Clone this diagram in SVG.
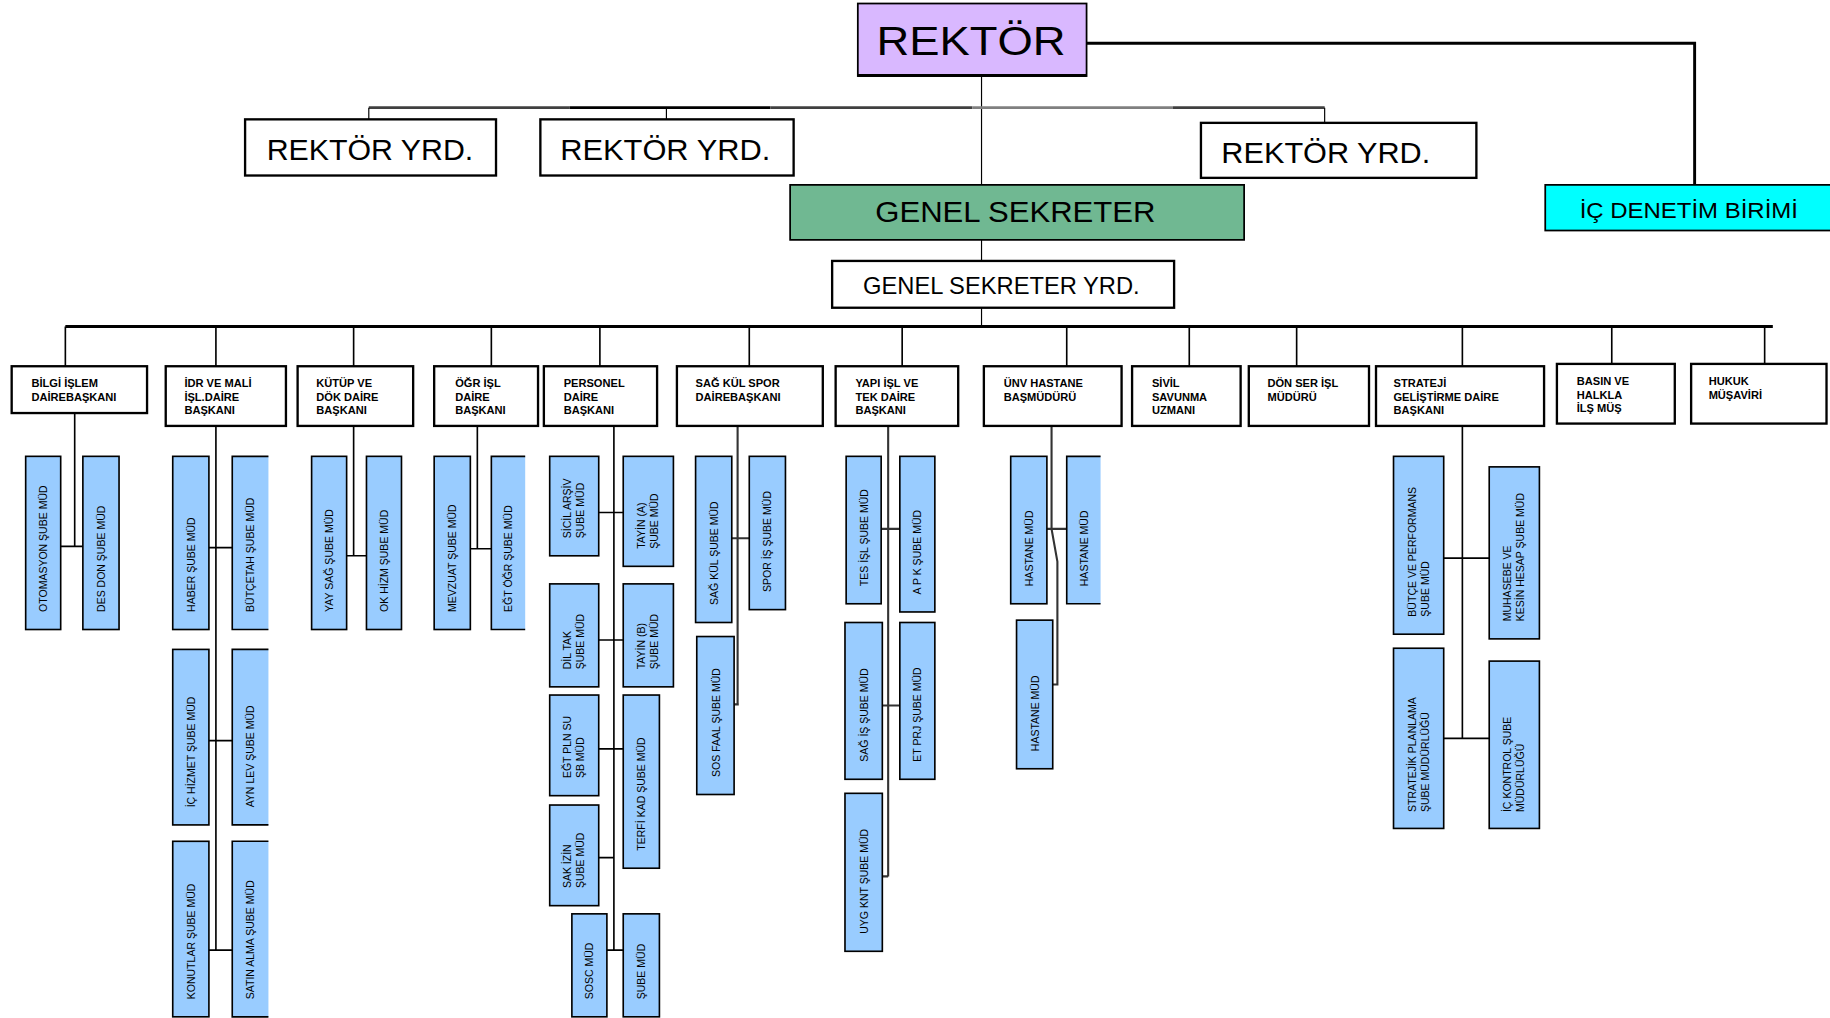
<svg xmlns="http://www.w3.org/2000/svg" width="1830" height="1018" viewBox="0 0 1830 1018">
<style>
.bx{fill:#fff;stroke:#000;stroke-width:2}
.sb{fill:#99CCFF;stroke:#000;stroke-width:1.4}
.sbf{fill:#99CCFF}
.sbe{fill:none;stroke:#000;stroke-width:1.4}
.ln{fill:none;stroke:#000;stroke-width:1.4}
.lt{fill:none;stroke:#000;stroke-width:1}
.lk{fill:none;stroke:#000;stroke-width:2.5}
.big{font-family:"Liberation Sans",Arial,sans-serif;fill:#000;text-anchor:middle}
.dt{font-family:"Liberation Sans",Arial,sans-serif;font-weight:bold;font-size:9.5px;fill:#000}
.st{font-family:"Liberation Sans",Arial,sans-serif;font-size:9px;fill:#000}
</style>
<rect width="1830" height="1018" fill="#fff"/>
<g transform="scale(1.1671,1.1701)">
<g id="connectors">
<path class="lk" d="M931,37 H1452 V158"/>
<path class="lt" d="M841,65 V158"/>
<path d="M316,92 H488" stroke="#404040" stroke-width="2.4"/>
<path d="M488,92 H660" stroke="#000" stroke-width="2.4"/>
<path d="M660,92 H833" stroke="#404040" stroke-width="2.4"/>
<path d="M833,92 H1005" stroke="#808080" stroke-width="2.4"/>
<path d="M1005,92 H1135" stroke="#404040" stroke-width="2.4"/>
<path class="lt" d="M316,92 V102 M571,92 V102 M1135,92 V105"/>
<path class="lt" d="M841,205 V223 M841,263 V279"/>
<path class="lk" d="M56,279 H1519"/>
<path class="ln" d="M56,279 V313 M185,279 V313 M303,279 V313 M421,279 V313 M514,279 V313 M642,279 V313 M773,279 V313 M914,279 V313 M1019,279 V313 M1111,279 V313 M1253,279 V313 M1381,279 V311 M1512,279 V311"/>
<path class="ln" d="M64,353 V467 M52,467 H71"/>
<path class="ln" d="M185,364 V812 M179,468 H199 M179,633 H199 M179,812 H199"/>
<path class="ln" d="M303,364 V475 M297,475 H314"/>
<path class="ln" d="M409,364 V469 M403,469 H421"/>
<path class="ln" d="M526,364 V812 M513,438 H534 M513,547 H534 M513,640 H534 M513,733 H526 M520,812 H534"/>
<path d="M632,364 V602 M627,460 H642 M629,602 H633" fill="none" stroke="#333" stroke-width="1.8"/>
<path d="M761,364 V749 M755,452 H771 M756,603 H771 M756,749 H761" fill="none" stroke="#333" stroke-width="1.8"/>
<path d="M901,364 V452 L906,480 V585 H902 M897,452 H914" fill="none" stroke="#333" stroke-width="1.8"/>
<path class="ln" d="M1253,364 V631 M1237,477 H1276 M1237,631 H1276"/>
</g>
<g id="rektor">
<rect x="735" y="3" width="196" height="62" fill="#D9B8FF" stroke="#000" stroke-width="1.5"/>
<path d="M735,64.5 H931" stroke="#000" stroke-width="2.5"/>
<text class="big" x="832" y="47" font-size="35" textLength="162" lengthAdjust="spacingAndGlyphs">REKTÖR</text>
</g>
<g id="rektor-yrd-1">
<rect class="bx" x="210" y="102" width="215" height="48"/>
<text class="big" x="317" y="137" font-size="26" textLength="177" lengthAdjust="spacingAndGlyphs">REKTÖR YRD.</text>
</g>
<g id="rektor-yrd-2">
<rect class="bx" x="463" y="102" width="217" height="48"/>
<text class="big" x="570" y="137" font-size="26" textLength="180" lengthAdjust="spacingAndGlyphs">REKTÖR YRD.</text>
</g>
<g id="rektor-yrd-3">
<rect class="bx" x="1029" y="105" width="236" height="47"/>
<text class="big" x="1136" y="139" font-size="26" textLength="179" lengthAdjust="spacingAndGlyphs">REKTÖR YRD.</text>
</g>
<g id="genel-sekreter">
<rect x="677" y="158" width="389" height="47" fill="#70B892" stroke="#000" stroke-width="1.5"/>
<text class="big" x="870" y="190" font-size="25" textLength="240" lengthAdjust="spacingAndGlyphs">GENEL SEKRETER</text>
</g>
<g id="ic-denetim">
<rect x="1324" y="158" width="250" height="39" fill="#00FFFF" stroke="#000" stroke-width="1.5"/>
<text class="big" x="1447" y="186" font-size="19" textLength="187" lengthAdjust="spacingAndGlyphs">İÇ DENETİM BİRİMİ</text>
</g>
<g id="genel-sekreter-yrd">
<rect class="bx" x="713" y="223" width="293" height="40"/>
<text class="big" x="858" y="251" font-size="20" textLength="237" lengthAdjust="spacingAndGlyphs">GENEL SEKRETER YRD.</text>
</g>

<g id="d1">
<rect class="bx" x="10" y="313" width="116" height="40"/>
<text class="dt" x="27" y="331">BİLGİ İŞLEM</text><text class="dt" x="27" y="343">DAİREBAŞKANI</text>
</g>
<g id="d2">
<rect class="bx" x="142" y="313" width="103" height="51"/>
<text class="dt" x="158" y="331">İDR VE MALİ</text><text class="dt" x="158" y="343">İŞL.DAİRE</text><text class="dt" x="158" y="354">BAŞKANI</text>
</g>
<g id="d3">
<rect class="bx" x="255" y="313" width="99" height="51"/>
<text class="dt" x="271" y="331">KÜTÜP VE</text><text class="dt" x="271" y="343">DÖK DAİRE</text><text class="dt" x="271" y="354">BAŞKANI</text>
</g>
<g id="d4">
<rect class="bx" x="372" y="313" width="89" height="51"/>
<text class="dt" x="390" y="331">ÖĞR İŞL</text><text class="dt" x="390" y="343">DAİRE</text><text class="dt" x="390" y="354">BAŞKANI</text>
</g>
<g id="d5">
<rect class="bx" x="466" y="313" width="97" height="51"/>
<text class="dt" x="483" y="331">PERSONEL</text><text class="dt" x="483" y="343">DAİRE</text><text class="dt" x="483" y="354">BAŞKANI</text>
</g>
<g id="d6">
<rect class="bx" x="580" y="313" width="125" height="51"/>
<text class="dt" x="596" y="331">SAĞ KÜL SPOR</text><text class="dt" x="596" y="343">DAİREBAŞKANI</text>
</g>
<g id="d7">
<rect class="bx" x="716" y="313" width="105" height="51"/>
<text class="dt" x="733" y="331">YAPI İŞL VE</text><text class="dt" x="733" y="343">TEK DAİRE</text><text class="dt" x="733" y="354">BAŞKANI</text>
</g>
<g id="d8">
<rect class="bx" x="843" y="313" width="118" height="51"/>
<text class="dt" x="860" y="331">ÜNV HASTANE</text><text class="dt" x="860" y="343">BAŞMÜDÜRÜ</text>
</g>
<g id="d9">
<rect class="bx" x="970" y="313" width="93" height="51"/>
<text class="dt" x="987" y="331">SİVİL</text><text class="dt" x="987" y="343">SAVUNMA</text><text class="dt" x="987" y="354">UZMANI</text>
</g>
<g id="d10">
<rect class="bx" x="1070" y="313" width="103" height="51"/>
<text class="dt" x="1086" y="331">DÖN SER İŞL</text><text class="dt" x="1086" y="343">MÜDÜRÜ</text>
</g>
<g id="d11">
<rect class="bx" x="1179" y="313" width="144" height="51"/>
<text class="dt" x="1194" y="331">STRATEJİ</text><text class="dt" x="1194" y="343">GELİŞTİRME DAİRE</text><text class="dt" x="1194" y="354">BAŞKANI</text>
</g>
<g id="d12">
<rect class="bx" x="1334" y="311" width="101" height="51"/>
<text class="dt" x="1351" y="329">BASIN VE</text><text class="dt" x="1351" y="341">HALKLA</text><text class="dt" x="1351" y="352">İLŞ MÜŞ</text>
</g>
<g id="d13">
<rect class="bx" x="1449" y="311" width="116" height="51"/>
<text class="dt" x="1464" y="329">HUKUK</text><text class="dt" x="1464" y="341">MÜŞAVİRİ</text>
</g>

<g id="s1a"><rect class="sb" x="22" y="390" width="30" height="148"/><text class="st" transform="translate(37,523) rotate(-90)" y="3.5">OTOMASYON ŞUBE MÜD</text></g>
<g id="s1b"><rect class="sb" x="71" y="390" width="31" height="148"/><text class="st" transform="translate(86.5,523) rotate(-90)" y="3.5">DES DON ŞUBE MÜD</text></g>

<g id="s2a"><rect class="sb" x="148" y="390" width="31" height="148"/><text class="st" transform="translate(163.5,523) rotate(-90)" y="3.5">HABER ŞUBE MÜD</text></g>
<g id="s2b"><rect class="sbf" x="199" y="390" width="31" height="148"/><path class="sbe" d="M230,390 H199 V538 H230"/><text class="st" transform="translate(214.5,523) rotate(-90)" y="3.5">BÜTÇETAH ŞUBE MÜD</text></g>
<g id="s2c"><rect class="sb" x="148" y="555" width="31" height="150"/><text class="st" transform="translate(163.5,690) rotate(-90)" y="3.5">İÇ HİZMET ŞUBE MÜD</text></g>
<g id="s2d"><rect class="sbf" x="199" y="555" width="31" height="150"/><path class="sbe" d="M230,555 H199 V705 H230"/><text class="st" transform="translate(214.5,690) rotate(-90)" y="3.5">AYN LEV ŞUBE MÜD</text></g>
<g id="s2e"><rect class="sb" x="148" y="719" width="31" height="150"/><text class="st" transform="translate(163.5,854) rotate(-90)" y="3.5">KONUTLAR ŞUBE MÜD</text></g>
<g id="s2f"><rect class="sbf" x="199" y="719" width="31" height="150"/><path class="sbe" d="M230,719 H199 V869 H230"/><text class="st" transform="translate(214.5,854) rotate(-90)" y="3.5">SATIN ALMA ŞUBE MÜD</text></g>

<g id="s3a"><rect class="sb" x="267" y="390" width="30" height="148"/><text class="st" transform="translate(282,523) rotate(-90)" y="3.5">YAY SAĞ ŞUBE MÜD</text></g>
<g id="s3b"><rect class="sb" x="314" y="390" width="30" height="148"/><text class="st" transform="translate(329,523) rotate(-90)" y="3.5">OK HİZM ŞUBE MÜD</text></g>

<g id="s4a"><rect class="sb" x="372" y="390" width="31" height="148"/><text class="st" transform="translate(387.5,523) rotate(-90)" y="3.5">MEVZUAT ŞUBE MÜD</text></g>
<g id="s4b"><rect class="sbf" x="421" y="390" width="29" height="148"/><path class="sbe" d="M450,390 H421 V538 H450"/><text class="st" transform="translate(435.5,523) rotate(-90)" y="3.5">EĞT ÖĞR ŞUBE MÜD</text></g>

<g id="s5a"><rect class="sb" x="471" y="390" width="42" height="85"/><text class="st" transform="translate(492,460) rotate(-90)"><tspan x="0" y="-2.5">SİCİL ARŞİV</tspan><tspan x="0" y="8.5">ŞUBE MÜD</tspan></text></g>
<g id="s5b"><rect class="sb" x="534" y="390" width="43" height="94"/><text class="st" transform="translate(555.5,469) rotate(-90)"><tspan x="0" y="-2.5">TAYİN (A)</tspan><tspan x="0" y="8.5">ŞUBE MÜD</tspan></text></g>
<g id="s5c"><rect class="sb" x="471" y="499" width="42" height="88"/><text class="st" transform="translate(492,572) rotate(-90)"><tspan x="0" y="-2.5">DİL TAK</tspan><tspan x="0" y="8.5">ŞUBE MÜD</tspan></text></g>
<g id="s5d"><rect class="sb" x="534" y="499" width="43" height="88"/><text class="st" transform="translate(555.5,572) rotate(-90)"><tspan x="0" y="-2.5">TAYİN (B)</tspan><tspan x="0" y="8.5">ŞUBE MÜD</tspan></text></g>
<g id="s5e"><rect class="sb" x="471" y="594" width="42" height="86"/><text class="st" transform="translate(492,665) rotate(-90)"><tspan x="0" y="-2.5">EĞT PLN SU</tspan><tspan x="0" y="8.5">ŞB MÜD</tspan></text></g>
<g id="s5f"><rect class="sb" x="534" y="594" width="31" height="148"/><text class="st" transform="translate(549.5,727) rotate(-90)" y="3.5">TERFİ KAD ŞUBE MÜD</text></g>
<g id="s5g"><rect class="sb" x="471" y="688" width="42" height="86"/><text class="st" transform="translate(492,759) rotate(-90)"><tspan x="0" y="-2.5">SAK İZİN</tspan><tspan x="0" y="8.5">ŞUBE MÜD</tspan></text></g>
<g id="s5h"><rect class="sb" x="490" y="781" width="30" height="88"/><text class="st" transform="translate(505,854) rotate(-90)" y="3.5">SOSC MÜD</text></g>
<g id="s5i"><rect class="sb" x="534" y="781" width="31" height="88"/><text class="st" transform="translate(549.5,854) rotate(-90)" y="3.5">ŞUBE MÜD</text></g>

<g id="s6a"><rect class="sb" x="596" y="390" width="31" height="142"/><text class="st" transform="translate(611.5,517) rotate(-90)" y="3.5">SAĞ KÜL ŞUBE MÜD</text></g>
<g id="s6b"><rect class="sb" x="642" y="390" width="31" height="131"/><text class="st" transform="translate(657.5,506) rotate(-90)" y="3.5">SPOR İŞ ŞUBE MÜD</text></g>
<g id="s6c"><rect class="sb" x="597" y="544" width="32" height="135"/><text class="st" transform="translate(613,664) rotate(-90)" y="3.5">SOS FAAL ŞUBE MÜD</text></g>

<g id="s7a"><rect class="sb" x="725" y="390" width="30" height="126"/><text class="st" transform="translate(740,501) rotate(-90)" y="3.5">TES İŞL ŞUBE MÜD</text></g>
<g id="s7b"><rect class="sb" x="771" y="390" width="30" height="133"/><text class="st" transform="translate(786,508) rotate(-90)" y="3.5">A P K ŞUBE MÜD</text></g>
<g id="s7c"><rect class="sb" x="724" y="532" width="32" height="134"/><text class="st" transform="translate(740,651) rotate(-90)" y="3.5">SAĞ İŞ ŞUBE MÜD</text></g>
<g id="s7d"><rect class="sb" x="771" y="532" width="30" height="134"/><text class="st" transform="translate(786,651) rotate(-90)" y="3.5">ET PRJ ŞUBE MÜD</text></g>
<g id="s7e"><rect class="sb" x="724" y="678" width="32" height="135"/><text class="st" transform="translate(740,798) rotate(-90)" y="3.5">UYG KNT ŞUBE MÜD</text></g>

<g id="s8a"><rect class="sb" x="866" y="390" width="31" height="126"/><text class="st" transform="translate(881.5,501) rotate(-90)" y="3.5">HASTANE MÜD</text></g>
<g id="s8b"><rect class="sbf" x="914" y="390" width="29" height="126"/><path class="sbe" d="M943,390 H914 V516 H943"/><text class="st" transform="translate(929,501) rotate(-90)" y="3.5">HASTANE MÜD</text></g>
<g id="s8c"><rect class="sb" x="871" y="530" width="31" height="127"/><text class="st" transform="translate(886.5,642) rotate(-90)" y="3.5">HASTANE MÜD</text></g>

<g id="s11a"><rect class="sb" x="1194" y="390" width="43" height="152"/><text class="st" transform="translate(1215.5,527) rotate(-90)"><tspan x="0" y="-2.5">BÜTÇE VE PERFORMANS</tspan><tspan x="0" y="8.5">ŞUBE MÜD</tspan></text></g>
<g id="s11b"><rect class="sb" x="1276" y="399" width="43" height="147"/><text class="st" transform="translate(1297.5,531) rotate(-90)"><tspan x="0" y="-2.5">MUHASEBE VE</tspan><tspan x="0" y="8.5">KESİN HESAP ŞUBE MÜD</tspan></text></g>
<g id="s11c"><rect class="sb" x="1194" y="554" width="43" height="154"/><text class="st" transform="translate(1215.5,694) rotate(-90)"><tspan x="0" y="-2.5">STRATEJİK PLANLAMA</tspan><tspan x="0" y="8.5">ŞUBE MÜDÜRLÜĞÜ</tspan></text></g>
<g id="s11d"><rect class="sb" x="1276" y="565" width="43" height="143"/><text class="st" transform="translate(1297.5,694) rotate(-90)"><tspan x="0" y="-2.5">İÇ KONTROL ŞUBE</tspan><tspan x="0" y="8.5">MÜDÜRLÜĞÜ</tspan></text></g>
</g>
</svg>
